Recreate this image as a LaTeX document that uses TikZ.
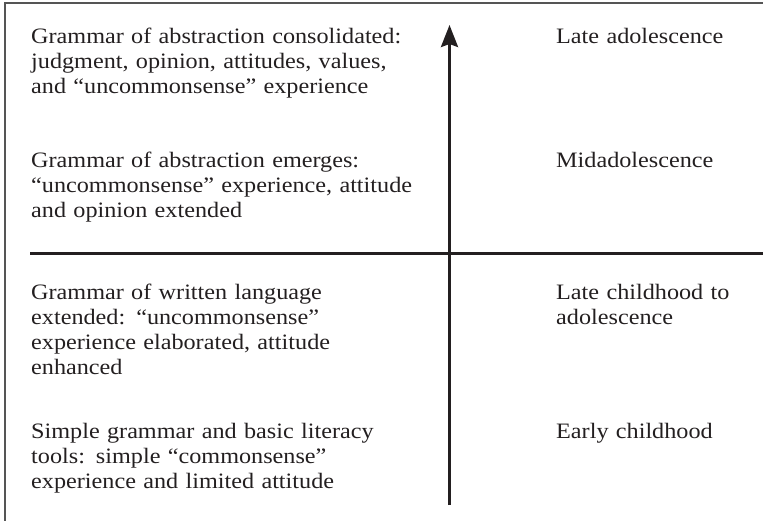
\documentclass[tikz,border=0pt]{standalone}
\usepackage{fontspec}
\setmainfont{Liberation Serif}[FakeStretch=1.1]
\usetikzlibrary{arrows.meta}
\definecolor{ink}{HTML}{231F20}
\definecolor{rule}{HTML}{555555}
\begin{document}
\begin{tikzpicture}[x=1pt,y=-1pt,
  label/.style={anchor=base west, inner sep=0pt, text width=420pt, align=left,
    text=ink, font=\fontsize{22}{25}\selectfont},
  frameline/.style={draw=rule, line width=1.3pt},
  divider/.style={draw=ink, line width=3pt},
  axis/.style={draw=ink, line width=3pt,
    -{Stealth[length=22pt,width=17pt,inset=3pt]}}]
\useasboundingbox (0,0) rectangle (763,521);

% open frame: top and left edges
\coordinate (ftl) at (5,3);
\coordinate (ftr) at (763,3);
\coordinate (fbl) at (5,521);
\draw[frameline] (fbl) -- (ftl) -- (ftr);

% stage descriptions (left column)
\node[label] (g1) at (31,44) {Grammar of abstraction consolidated:\\judgment, opinion, attitudes, values,\\and “uncommonsense” experience};
\node[label] (g2) at (31,168) {Grammar of abstraction emerges:\\“uncommonsense” experience, attitude\\and opinion extended};
\node[label] (g3) at (31,300) {Grammar of written language\\extended: “uncommonsense”\\experience elaborated, attitude\\enhanced};
\node[label] (g4) at (31,438) {Simple grammar and basic literacy\\tools: simple “commonsense”\\experience and limited attitude};

% ages (right column)
\node[label, text width=200pt] (a1) at (556,44) {Late adolescence};
\node[label, text width=200pt] (a2) at (556,168) {Midadolescence};
\node[label, text width=200pt] (a3) at (556,300) {Late childhood to\\adolescence};
\node[label, text width=200pt] (a4) at (556,438) {Early childhood};

% divider and development axis
\coordinate (dl) at (30,254);
\coordinate (dr) at (763,254);
\draw[divider] (dl) -- (dr);
\coordinate (axbot) at (449.5,505);
\coordinate (axtop) at (449.5,25);
\draw[axis] (axbot) -- (axtop);
\end{tikzpicture}
\end{document}
